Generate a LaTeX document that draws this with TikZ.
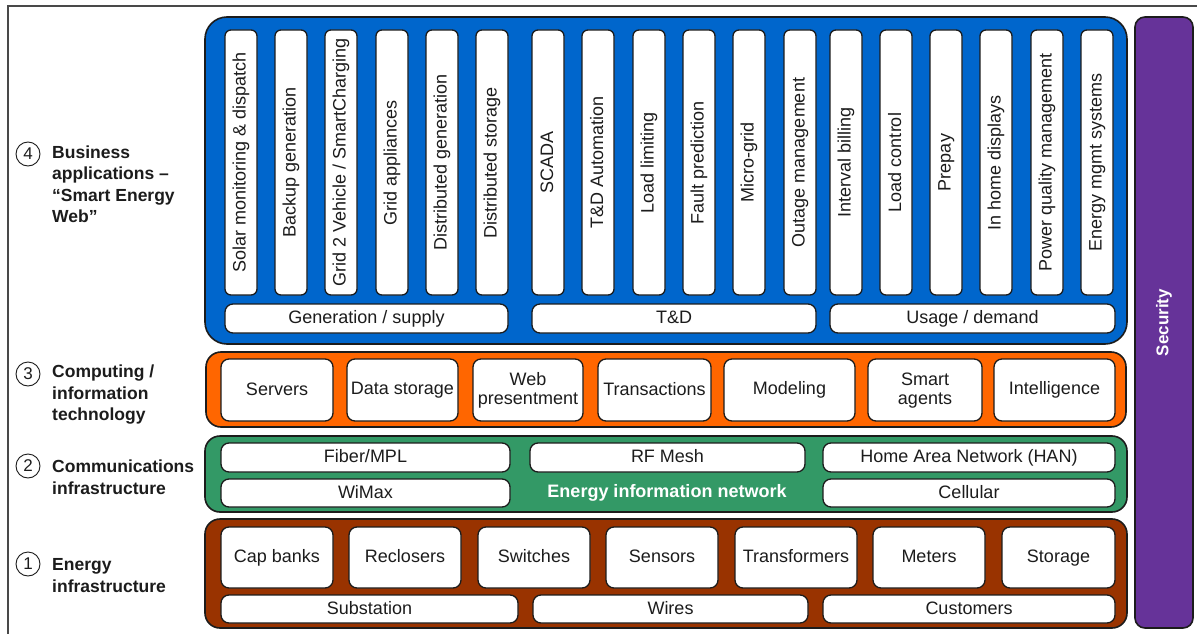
\documentclass[tikz,border=0pt]{standalone}
\usepackage{fontspec}
\setmainfont{Liberation Sans}
\definecolor{bizblue}{HTML}{0066CC}
\definecolor{itorange}{HTML}{FF6600}
\definecolor{comgreen}{HTML}{339966}
\definecolor{enbrown}{HTML}{993300}
\definecolor{secpurple}{HTML}{663399}
\definecolor{ink}{HTML}{1C1C1C}
\tikzset{
  panel/.style={draw=ink, line width=1.6pt, inner sep=0pt},
  wbox/.style={draw=ink, fill=white, line width=1.3pt, rounded corners=8pt, inner sep=1pt,
    font=\fontsize{18}{20}\selectfont, text=ink, align=center},
  vbox/.style={wbox, rounded corners=6pt, rotate=90, minimum width=265, minimum height=32},
  layerlabel/.style={anchor=west, align=left, text=ink, inner sep=0pt,
    font=\bfseries\fontsize{17.5}{21.5}\selectfont},
  numcircle/.style={circle, draw=ink, line width=0.9pt, minimum size=24, inner sep=0pt,
    text=ink, font=\fontsize{17}{17}\selectfont},
  frameline/.style={draw=ink!80, line width=1.5pt}
}
\newcommand\vs{\rule[-3pt]{0pt}{16pt}}
\newcommand\vapp[3]{\node[vbox] (#1) at ({#2+16},162.5) {\vs#3};}
\newcommand\hbx[6]{\node[wbox, minimum width={#4-#2}, minimum height={#5-#3}] (#1) at ({(#2+#4)/2},{(#3+#5)/2}) {\vs#6};}
\newcommand\hbxx[7]{\node[wbox, minimum width={#4-#2}, minimum height={#5-#3}] (#1) at ({(#2+#4)/2},{(#3+#5)/2}) {\vs#6\\[-1pt]\vs#7};}
\begin{document}
\begin{tikzpicture}[x=1pt,y=-1pt]
\useasboundingbox (0,0) rectangle (1197,634);
\fill[white] (0,0) rectangle (1197,634);
% outer frame (cropped)
\coordinate (fbl) at (8,634);
\coordinate (ftl) at (8,6);
\coordinate (ftr) at (1197,6);
\draw[frameline] (fbl) -- (ftl) -- (ftr);

% panels
\node[panel, fill=bizblue, rounded corners=22pt, minimum width=922, minimum height=327] (biz) at (666,180.5) {};
\node[panel, fill=itorange, rounded corners=15pt, minimum width=920, minimum height=75] (comp) at (666,389.5) {};
\node[panel, fill=comgreen, rounded corners=15pt, minimum width=922, minimum height=76] (comm) at (666,474) {};
\node[panel, fill=enbrown, rounded corners=15pt, minimum width=922, minimum height=109] (ener) at (666,573.5) {};
\node[panel, fill=secpurple, rounded corners=10pt, minimum width=58, minimum height=611] (sec) at (1164,322.5) {};
\node[rotate=90, text=white, font=\bfseries\fontsize{17}{17}\selectfont] (sect) at (sec.center) {Security};

% business applications
\vapp{v1}{225}{Solar monitoring \& dispatch}
\vapp{v2}{275}{Backup generation}
\vapp{v3}{325}{Grid 2 Vehicle / SmartCharging}
\vapp{v4}{376}{Grid appliances}
\vapp{v5}{426}{Distributed generation}
\vapp{v6}{476}{Distributed storage}
\vapp{v7}{532}{SCADA}
\vapp{v8}{582}{T\&D Automation}
\vapp{v9}{633}{Load limiting}
\vapp{v10}{683}{Fault prediction}
\vapp{v11}{733}{Micro-grid}
\vapp{v12}{784}{Outage management}
\vapp{v13}{830}{Interval billing}
\vapp{v14}{880}{Load control}
\vapp{v15}{930}{Prepay}
\vapp{v16}{980}{In home displays}
\vapp{v17}{1031}{Power quality management}
\vapp{v18}{1081}{Energy mgmt systems}
\hbx{gen}{225}{304}{508}{333}{Generation / supply}
\hbx{td}{532}{304}{816}{333}{T\&D}
\hbx{use}{830}{304}{1115}{333}{Usage / demand}

% computing
\hbx{c1}{221}{359}{333}{421}{Servers}
\hbx{c2}{347}{359}{458}{421}{Data storage}
\hbxx{c3}{473}{359}{583}{421}{Web}{presentment}
\hbx{c4}{598}{359}{711}{421}{Transactions}
\hbx{c5}{724}{359}{855}{421}{Modeling}
\hbxx{c6}{868}{359}{982}{421}{Smart}{agents}
\hbx{c7}{994}{359}{1115}{421}{Intelligence}

% communications
\hbx{m1}{221}{443}{510}{472}{Fiber/MPL}
\hbx{m2}{530}{443}{805}{472}{RF Mesh}
\hbx{m3}{823}{443}{1115}{472}{Home Area Network (HAN)}
\hbx{m4}{221}{479}{510}{507}{WiMax}
\hbx{m5}{823}{479}{1115}{507}{Cellular}
\node[text=white, font=\bfseries\fontsize{18}{18}\selectfont] (ein) at (667,493) {\vs Energy information network};

% energy
\hbx{e1}{221}{527}{333}{588}{Cap banks}
\hbx{e2}{349}{527}{461}{588}{Reclosers}
\hbx{e3}{478}{527}{590}{588}{Switches}
\hbx{e4}{606}{527}{718}{588}{Sensors}
\hbx{e5}{735}{527}{857}{588}{Transformers}
\hbx{e6}{873}{527}{985}{588}{Meters}
\hbx{e7}{1002}{527}{1115}{588}{Storage}
\hbx{e8}{221}{595}{518}{623}{Substation}
\hbx{e9}{533}{595}{808}{623}{Wires}
\hbx{e10}{823}{595}{1115}{623}{Customers}

% layer labels
\node[numcircle] (n4) at (28,154) {4};
\node[layerlabel] (l4) at (52,184) {Business\\applications –\\“Smart Energy\\Web”};
\node[numcircle] (n3) at (28,374) {3};
\node[layerlabel] (l3) at (52,395) {Computing /\\information\\technology};
\node[numcircle] (n2) at (28,466) {2};
\node[layerlabel] (l2) at (52,477) {Communications\\infrastructure};
\node[numcircle] (n1) at (28,564) {1};
\node[layerlabel] (l1) at (52,575.5) {Energy\\infrastructure};
\end{tikzpicture}
\end{document}
